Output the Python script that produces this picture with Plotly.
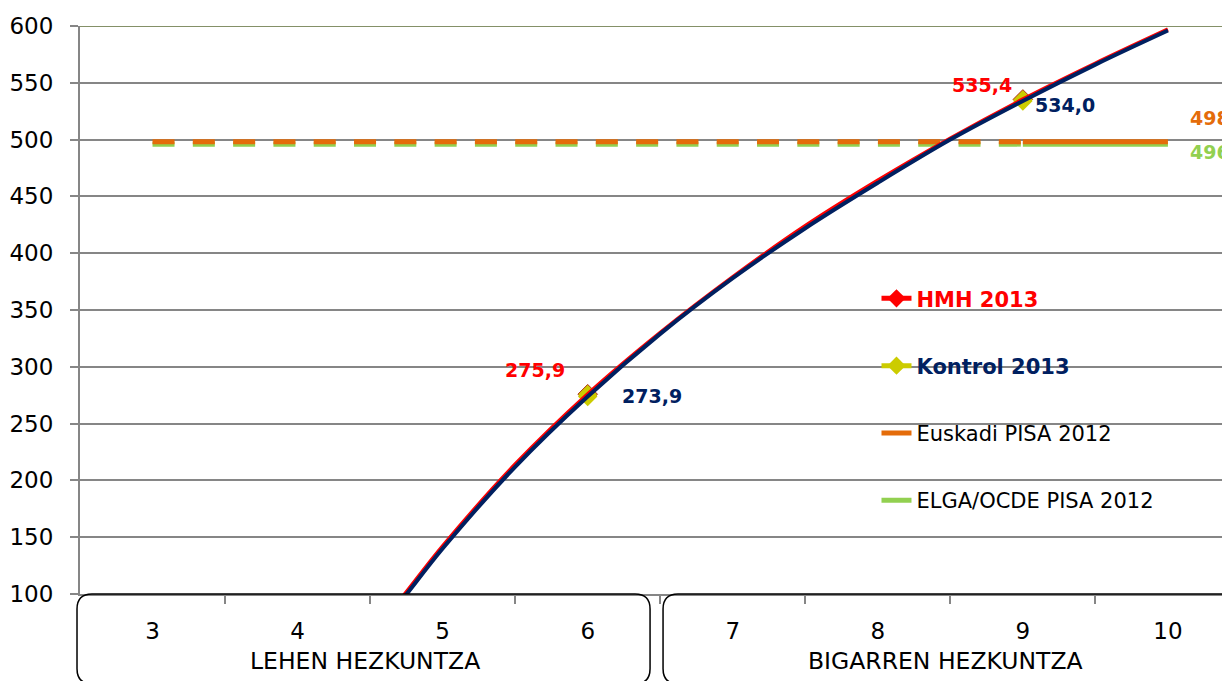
import plotly.graph_objects as go

# ---------------- data ----------------
categories = [3, 4, 5, 6, 7, 8, 9, 10]
group_names = ["LEHEN HEZKUNTZA", "BIGARREN HEZKUNTZA"]
group_centers = [4.5, 8.5]

# trend curves
curve_x = [4.70, 4.74, 5.0, 5.5, 6.0, 6.5, 7.0, 7.5, 8.0, 8.5, 9.0, 9.5, 10.0]
hmh_curve = [94, 100, 142, 214, 275.9, 330, 379, 424, 464, 501, 535.4, 567, 597]
kontrol_curve = [92, 98, 140, 212, 273.9, 329, 378, 422, 462, 500, 534.0, 566, 596]

# measured points
point_x = [6, 9]
hmh_points = [275.9, 535.4]
kontrol_points = [273.9, 534.0]

# PISA 2012 reference levels
ref_x = [3, 4, 5, 6, 7, 8, 9, 10]
euskadi = [498, 498, 498, 498, 498, 498, 498, 498]
elga = [496, 496, 496, 496, 496, 496, 496, 496]

y_ticks = [100, 150, 200, 250, 300, 350, 400, 450, 500, 550, 600]

# ---------------- styles ----------------
RED = "#FF0000"
NAVY = "#002060"
YELLOW = "#CCCC00"
ORANGE = "#E46C0A"
GREEN = "#92D050"
GRID = "#868686"
FONT = "DejaVu Sans"

fig = go.Figure()

# reference lines: dashed part (3..9) and solid part (9..10)
dash_end = ref_x.index(9)
for vals, col in [(elga, GREEN), (euskadi, ORANGE)]:
    fig.add_trace(go.Scatter(x=ref_x[:dash_end + 1], y=vals[:dash_end + 1], mode="lines",
                             line=dict(color=col, width=5, dash="22px,18.3px"),
                             showlegend=False, hoverinfo="skip"))
    fig.add_trace(go.Scatter(x=ref_x[dash_end:], y=vals[dash_end:], mode="lines",
                             line=dict(color=col, width=5),
                             showlegend=False, hoverinfo="skip"))

# markers
fig.add_trace(go.Scatter(x=point_x, y=hmh_points, mode="markers",
                         marker=dict(symbol="diamond", size=15, color=YELLOW,
                                     line=dict(color="#B03010", width=1)),
                         showlegend=False, hoverinfo="skip"))
fig.add_trace(go.Scatter(x=point_x, y=kontrol_points, mode="markers",
                         marker=dict(symbol="diamond", size=15, color=YELLOW),
                         showlegend=False, hoverinfo="skip"))

# curves
fig.add_trace(go.Scatter(x=curve_x, y=hmh_curve, mode="lines", line=dict(color=RED, width=4, shape="spline"),
                         showlegend=False, hoverinfo="skip"))
fig.add_trace(go.Scatter(x=curve_x, y=kontrol_curve, mode="lines", line=dict(color=NAVY, width=4, shape="spline"),
                         showlegend=False, hoverinfo="skip"))

# legend entries
legend_items = [
    ('<b><span style="color:%s">HMH 2013</span></b>' % RED, RED, RED, True),
    ('<b><span style="color:%s">Kontrol 2013</span></b>' % NAVY, YELLOW, YELLOW, True),
    ("Euskadi PISA 2012", ORANGE, None, False),
    ("ELGA/OCDE PISA 2012", GREEN, None, False),
]
for i, (name, lcol, mcol, has_marker) in enumerate(legend_items):
    fig.add_trace(go.Scatter(x=[None], y=[None], name=name,
                             mode="lines+markers" if has_marker else "lines",
                             line=dict(color=lcol, width=5),
                             marker=dict(symbol="diamond", size=14, color=mcol) if has_marker else None,
                             legendgroup="g%d" % i, showlegend=True))

# data labels
def fmt(v):
    return ("%.1f" % v).replace(".", ",")

LBL = 19
annotations = []
for xv, yv, dx, dy in zip(point_x, hmh_points, [-53, -41], [24, 14]):
    annotations.append(dict(x=xv, y=yv, text="<b>%s</b>" % fmt(yv), showarrow=False,
                            xshift=dx, yshift=dy, font=dict(color=RED, size=LBL, family=FONT)))
for xv, yv, dx, dy in zip(point_x, kontrol_points, [64, 42], [0, -4]):
    annotations.append(dict(x=xv, y=yv, text="<b>%s</b>" % fmt(yv), showarrow=False,
                            xshift=dx, yshift=dy, font=dict(color=NAVY, size=LBL, family=FONT)))
annotations.append(dict(x=ref_x[-1], y=euskadi[-1], text="<b>%d</b>" % euskadi[-1], showarrow=False,
                        xanchor="left", xshift=20, yshift=24, font=dict(color=ORANGE, size=LBL, family=FONT)))
annotations.append(dict(x=ref_x[-1], y=elga[-1], text="<b>%d</b>" % elga[-1], showarrow=False,
                        xanchor="left", xshift=20, yshift=-8, font=dict(color=GREEN, size=LBL, family=FONT)))
for gname, gc in zip(group_names, group_centers):
    annotations.append(dict(x=gc, xref="x", y=-0.12, yref="paper", yshift=-15, text=gname, showarrow=False,
                            xshift=-5, font=dict(color="black", size=23.5, family=FONT)))

# group boxes (rounded rectangles under the axis)
def rbox(x0, x1, y0, y1, rx, ry):
    return ("M %f,%f L %f,%f Q %f,%f %f,%f L %f,%f Q %f,%f %f,%f L %f,%f Q %f,%f %f,%f L %f,%f Q %f,%f %f,%f Z" % (
        x0 + rx, y0, x1 - rx, y0, x1, y0, x1, y0 - ry, x1, y1 + ry, x1, y1, x1 - rx, y1,
        x0 + rx, y1, x0, y1, x0, y1 + ry, x0, y0 - ry, x0, y0, x0 + rx, y0))

shapes = [
    dict(type="path", xref="paper", yref="paper", path=rbox(-0.0026, 0.4957, 0.0, -0.158, 0.013, 0.0264),
         line=dict(color="black", width=1.5), fillcolor="rgba(0,0,0,0)", layer="above"),
    dict(type="path", xref="paper", yref="paper", path=rbox(0.507, 1.05, 0.0, -0.158, 0.013, 0.0264),
         line=dict(color="black", width=1.5), fillcolor="rgba(0,0,0,0)", layer="above"),
    dict(type="line", xref="paper", yref="y", x0=0, x1=1, y0=600, y1=600,
         line=dict(color="#5b6b35", width=1.5), layer="below"),
]

# the page adds an 8px body margin, so the figure is 8px smaller than the window
fig.update_layout(
    width=1222, height=673,
    margin=dict(l=72, r=0, t=18, b=87),
    plot_bgcolor="white", paper_bgcolor="white",
    font=dict(family=FONT, size=20, color="black"),
    showlegend=True,
    legend=dict(x=0.6926, y=0.556, xanchor="left", yanchor="top", bgcolor="rgba(0,0,0,0)",
                traceorder="grouped", tracegroupgap=37, font=dict(size=21, family=FONT, color="black")),
    annotations=annotations,
    shapes=shapes,
    xaxis=dict(range=[2.5, 10.428], tickvals=categories, ticktext=[str(c) for c in categories],
               showgrid=False, zeroline=False, showline=True, linecolor=GRID, linewidth=1.5,
               ticks="", ticklabelstandoff=16, tickfont=dict(size=23, family=FONT, color="black"),
               minor=dict(tickvals=[3.5, 4.5, 5.5, 6.5, 7.5, 8.5, 9.5], ticks="outside", ticklen=8,
                          tickcolor=GRID, tickwidth=1.5, showgrid=False)),
    yaxis=dict(range=[100, 600], tickvals=y_ticks, showgrid=True, gridcolor=GRID, gridwidth=1.5,
               zeroline=False, showline=True, linecolor=GRID, linewidth=2,
               ticks="outside", ticklen=8, tickcolor=GRID, tickwidth=1.5, ticklabelstandoff=12,
               tickfont=dict(size=23, family=FONT, color="black")),
)

fig.write_html("out.html")
